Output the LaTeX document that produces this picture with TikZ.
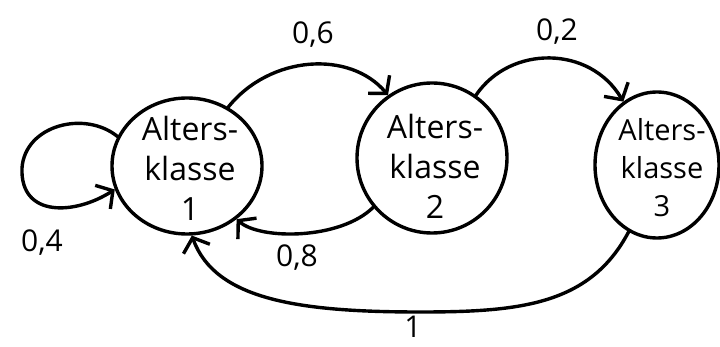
\documentclass[tikz,border=0pt]{standalone}
\usepackage{fontspec}
\setmainfont{Open Sans}
\usetikzlibrary{shapes.geometric,arrows.meta}

\tikzset{
  state/.style={ellipse, draw=black, line width=3.4pt, inner sep=0pt},
  statetext/.style={align=center, inner sep=0pt,
    font=\fontsize{32}{40}\selectfont},
  link/.style={line width=3.4pt, line cap=round,
    -{Straight Barb[length=12pt,width=28pt,line width=3.4pt]}},
  prob/.style={font=\fontsize{30}{34}\selectfont, inner sep=0pt}
}

\begin{document}
\begin{tikzpicture}[x=1pt,y=-1pt]
  \useasboundingbox (0,0) rectangle (720,347);

  % age classes: outlines first, their text set on top
  \node[state, minimum width=150pt, minimum height=136pt] (n1) at (187,166) {};
  \node[state, minimum width=150pt, minimum height=150pt] (n2) at (432,158) {};
  \node[state, minimum width=124pt, minimum height=146pt] (n3) at (657,165) {};
  \node[statetext] (t1) at (190,168) {Alters-\\klasse\\1};
  \node[statetext] (t2) at (435,166) {Alters-\\klasse\\2};
  \node[statetext, font=\fontsize{29}{38}\selectfont] (t3) at (662,168) {Alters-\\klasse\\3};

  % transitions
  \draw[link] (n1.157) .. controls (85,110) and (25,125) .. (22,168)
              .. controls (20,218) and (75,215) .. (n1.198);
  \draw[link] (n1.55) .. controls (270,55) and (350,50) .. (n2.125);
  \draw[link] (n2.55) .. controls (510,45) and (590,45) .. (n3.118);
  \draw[link] (n2.220) .. controls (340,240) and (260,240) .. (n1.313);
  \draw[link] (n3.247) .. controls (590,305) and (520,312) .. (420,312)
              .. controls (300,312) and (215,300) .. (n1.274);

  % probabilities
  \node[prob] (p11) at (42,243) {0,4};
  \node[prob] (p12) at (313,35) {0,6};
  \node[prob] (p23) at (557,32) {0,2};
  \node[prob] (p21) at (297,258) {0,8};
  \node[prob] (p31) at (413,327) {1};
\end{tikzpicture}
\end{document}
